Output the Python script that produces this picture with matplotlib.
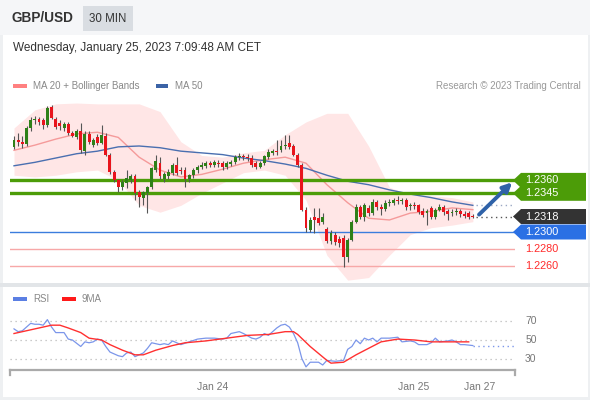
import matplotlib
matplotlib.use("Agg")
import matplotlib.pyplot as plt
from matplotlib.patches import Rectangle, Polygon
import numpy as np

plt.rcParams['font.family'] = ['Liberation Sans', 'DejaVu Sans']

# 30 min candles, Jan 23 00:00 -> Jan 25 07:00
opens = [1.2399, 1.2407, 1.2405, 1.2402, 1.2421, 1.2430, 1.2431, 1.2430, 1.2424, 1.2445,
         1.2431, 1.2427, 1.2421, 1.2426, 1.2415, 1.2410, 1.2418, 1.2394, 1.2414, 1.2401,
         1.2410, 1.2404, 1.2412, 1.2390, 1.2370, 1.2360, 1.2352, 1.2357, 1.2361, 1.2365,
         1.2347, 1.2340, 1.2345, 1.2352, 1.2372, 1.2380, 1.2362, 1.2365, 1.2369, 1.2378,
         1.2372, 1.2372, 1.2362, 1.2366, 1.2372, 1.2376, 1.2377, 1.2380, 1.2378, 1.2380,
         1.2380, 1.2375, 1.2379, 1.2381, 1.2387, 1.2388, 1.2387, 1.2386, 1.2380, 1.2376,
         1.2380, 1.2387, 1.2392, 1.2394, 1.2395, 1.2400, 1.2403, 1.2400, 1.2390, 1.2378,
         1.2326, 1.2302, 1.2317, 1.2316, 1.2312, 1.2303, 1.2289, 1.2297, 1.2292, 1.2293,
         1.2271, 1.2291, 1.2312, 1.2329, 1.2317, 1.2328, 1.2322, 1.2335, 1.2329, 1.2327,
         1.2334, 1.2334, 1.2337, 1.2336, 1.2337, 1.2330, 1.2331, 1.2331, 1.2325, 1.2322,
         1.2328, 1.2317, 1.2326, 1.2329, 1.2324, 1.2322, 1.2323, 1.2325, 1.2321, 1.2322,
         1.2319]
highs = [1.2412, 1.2415, 1.2412, 1.2423, 1.2434, 1.2435, 1.2434, 1.2433, 1.2447, 1.2448,
         1.2434, 1.2430, 1.2428, 1.2428, 1.2418, 1.2420, 1.2427, 1.2418, 1.2417, 1.2409,
         1.2414, 1.2424, 1.2415, 1.2392, 1.2372, 1.2362, 1.2360, 1.2372, 1.2368, 1.2368,
         1.2349, 1.2348, 1.2354, 1.2375, 1.2390, 1.2387, 1.2370, 1.2373, 1.2380, 1.2387,
         1.2376, 1.2375, 1.2368, 1.2374, 1.2378, 1.2381, 1.2383, 1.2383, 1.2384, 1.2384,
         1.2382, 1.2383, 1.2384, 1.2390, 1.2392, 1.2391, 1.2391, 1.2389, 1.2382, 1.2382,
         1.2390, 1.2396, 1.2397, 1.2407, 1.2407, 1.2413, 1.2413, 1.2402, 1.2392, 1.2380,
         1.2329, 1.2318, 1.2328, 1.2328, 1.2322, 1.2306, 1.2302, 1.2300, 1.2295, 1.2296,
         1.2293, 1.2314, 1.2332, 1.2331, 1.2334, 1.2331, 1.2338, 1.2337, 1.2333, 1.2337,
         1.2338, 1.2339, 1.2342, 1.2340, 1.2339, 1.2334, 1.2335, 1.2333, 1.2328, 1.2327,
         1.2330, 1.2328, 1.2332, 1.2331, 1.2327, 1.2327, 1.2328, 1.2327, 1.2324, 1.2324,
         1.2321]
lows = [1.2396, 1.2400, 1.2398, 1.2400, 1.2418, 1.2425, 1.2424, 1.2420, 1.2422, 1.2431,
        1.2420, 1.2419, 1.2418, 1.2413, 1.2410, 1.2408, 1.2392, 1.2390, 1.2402, 1.2399,
        1.2401, 1.2402, 1.2388, 1.2368, 1.2358, 1.2347, 1.2349, 1.2351, 1.2357, 1.2337,
        1.2329, 1.2331, 1.2322, 1.2350, 1.2370, 1.2362, 1.2358, 1.2362, 1.2366, 1.2366,
        1.2367, 1.2352, 1.2358, 1.2363, 1.2369, 1.2373, 1.2374, 1.2375, 1.2375, 1.2376,
        1.2372, 1.2373, 1.2377, 1.2379, 1.2384, 1.2384, 1.2383, 1.2376, 1.2373, 1.2374,
        1.2378, 1.2385, 1.2389, 1.2390, 1.2393, 1.2397, 1.2396, 1.2388, 1.2376, 1.2324,
        1.2300, 1.2300, 1.2299, 1.2308, 1.2309, 1.2287, 1.2286, 1.2285, 1.2283, 1.2259,
        1.2265, 1.2289, 1.2310, 1.2315, 1.2313, 1.2319, 1.2320, 1.2326, 1.2320, 1.2324,
        1.2330, 1.2331, 1.2333, 1.2332, 1.2326, 1.2326, 1.2327, 1.2321, 1.2318, 1.2308,
        1.2315, 1.2315, 1.2324, 1.2320, 1.2314, 1.2319, 1.2320, 1.2318, 1.2316, 1.2315,
        1.2316]
closes = [1.2407, 1.2405, 1.2402, 1.2421, 1.2430, 1.2431, 1.2428, 1.2424, 1.2444, 1.2433,
          1.2422, 1.2423, 1.2426, 1.2415, 1.2412, 1.2418, 1.2395, 1.2414, 1.2405, 1.2407,
          1.2403, 1.2413, 1.2390, 1.2370, 1.2360, 1.2352, 1.2358, 1.2363, 1.2365, 1.2345,
          1.2341, 1.2346, 1.2352, 1.2374, 1.2382, 1.2365, 1.2367, 1.2370, 1.2378, 1.2369,
          1.2371, 1.2362, 1.2366, 1.2372, 1.2376, 1.2378, 1.2380, 1.2378, 1.2381, 1.2379,
          1.2375, 1.2380, 1.2381, 1.2387, 1.2388, 1.2387, 1.2386, 1.2378, 1.2376, 1.2380,
          1.2388, 1.2393, 1.2394, 1.2393, 1.2400, 1.2401, 1.2399, 1.2390, 1.2378, 1.2326,
          1.2305, 1.2314, 1.2314, 1.2310, 1.2318, 1.2289, 1.2299, 1.2288, 1.2287, 1.2271,
          1.2291, 1.2312, 1.2329, 1.2317, 1.2331, 1.2322, 1.2335, 1.2329, 1.2327, 1.2334,
          1.2335, 1.2337, 1.2336, 1.2337, 1.2329, 1.2331, 1.2330, 1.2323, 1.2320, 1.2324,
          1.2317, 1.2326, 1.2329, 1.2323, 1.2321, 1.2323, 1.2325, 1.2321, 1.2319, 1.2317,
          1.2318]

# moving averages / bands read every 5 candles
ma_idx = [0, 5, 10, 15, 20, 25, 30, 35, 40, 45, 50, 55, 60, 65, 70, 75, 80, 85, 90, 95, 100, 105, 110]
ma20 = [1.2395, 1.2401, 1.2408, 1.2414, 1.2416, 1.2410, 1.2387, 1.2372, 1.2364, 1.2367, 1.2373, 1.2380,
        1.2384, 1.2387, 1.2380, 1.2355, 1.2334, 1.2316, 1.2314, 1.2322, 1.2324, 1.2328, 1.2326]
bb_upper = [1.2421, 1.2442, 1.2449, 1.2450, 1.2449, 1.2449, 1.2449, 1.2440, 1.2405, 1.2389, 1.2387, 1.2392,
            1.2395, 1.2413, 1.2428, 1.2438, 1.2438, 1.2400, 1.2352, 1.2343, 1.2342, 1.2340, 1.2335]
bb_lower = [1.2366, 1.2364, 1.2366, 1.2370, 1.2372, 1.2360, 1.2331, 1.2323, 1.2331, 1.2345, 1.2357, 1.2369,
            1.2372, 1.2366, 1.2337, 1.2273, 1.2244, 1.2247, 1.2273, 1.2297, 1.2305, 1.2308, 1.2312]
ma50 = [1.2377, 1.2381, 1.2386, 1.2391, 1.2394, 1.2399, 1.2400, 1.2398, 1.2394, 1.2392, 1.2390, 1.2386,
        1.2383, 1.2379, 1.2374, 1.2366, 1.2359, 1.2355, 1.2349, 1.2344, 1.2340, 1.2335, 1.2331]

resist = [1.2360, 1.2345]
support = [1.2300, 1.2280, 1.2260]
last_price = 1.2318
target = 1.2360

rsi_idx = [0, 1, 2, 4, 5, 6, 7, 8, 9, 10, 12, 13, 14, 16, 17, 18, 19, 20, 21, 22, 23, 25, 26, 27, 28, 29,
           31, 32, 33, 35, 36, 37, 38, 39, 40, 42, 44, 46, 48, 50, 51, 52, 54, 55, 57, 58, 59, 60, 61, 62,
           63, 64, 65, 66, 67, 68, 69, 70, 71, 73, 74, 75, 77, 79, 80, 81, 82, 83, 84, 85, 86, 87, 88, 90,
           92, 93, 95, 96, 97, 99, 100, 101, 102, 104, 105, 106, 107, 108, 110]
rsi = [62, 59, 60, 68, 67, 67, 66, 72, 64, 58, 58, 51, 50, 43, 48, 47, 48, 51, 50, 43, 37, 33, 32, 36, 37, 32,
       36, 41, 47, 45, 46, 45, 49, 47, 45, 48, 51, 52, 52, 51, 52, 57, 59, 57, 52, 51, 53, 57, 55, 59,
       63, 66, 67, 64, 57, 47, 30, 21, 26, 26, 23, 28, 27, 28, 40, 43, 50, 46, 52, 50, 52, 48, 52, 52,
       53, 48, 49, 48, 45, 45, 47, 52, 48, 49, 50, 48, 45, 45, 44]
ma9_idx = [0, 4, 8, 9, 11, 13, 16, 18, 21, 23, 26, 29, 31, 34, 38, 41, 46, 51, 56, 61, 65, 67, 68, 71,
           75, 76, 79, 82, 85, 88, 92, 96, 100, 105, 109]
rsi_ma9 = [57, 61, 65, 66, 66, 63, 58, 52, 50, 45, 39, 34, 34, 39, 44, 47, 49, 52, 55, 56, 59, 59, 56, 43,
           28, 25, 26, 34, 41, 48, 51, 50, 48, 48, 48]
rsi_levels = [70, 50, 30]
date_ticks = [47.7, 95.7, 111.5]
date_labels = ["Jan 24", "Jan 25", "Jan 27"]

W, H = 590, 400


def fx(x):
    return x / W


def fy(y):
    return 1 - y / H


fig = plt.figure(figsize=(5.9, 4.0), dpi=100, facecolor='#eef0f2')


def bg_rect(x0, y0, w, h, color):
    # background block in pixel units, kept behind the axes
    fig.patches.append(Rectangle((fx(x0), fy(y0 + h)), w / W, h / H, transform=fig.transFigure,
                                 facecolor=color, edgecolor='none', zorder=-5))


bg_rect(0, 0, 590, 35, '#f5f6f8')
bg_rect(3, 35, 585, 248, 'white')
bg_rect(3, 287, 585, 110, 'white')
bg_rect(0, 283, 590, 4, '#e2e5e8')

# header
fig.text(fx(12), fy(18), "GBP/USD", fontsize=9.8, fontweight='bold', color='#333333', va='center')
bg_rect(83, 6, 50, 25, '#d9dde2')
fig.text(fx(108), fy(19), "30 MIN", fontsize=8.3, color='#333333', va='center', ha='center')
fig.text(fx(13), fy(48), "Wednesday, January 25, 2023 7:09:48 AM CET", fontsize=8.5,
         color='#333333', va='center')

# legends
bg_rect(13, 84, 14, 4, '#ff8080')
fig.text(fx(33), fy(86), "MA 20 + Bollinger Bands", fontsize=7, color='#888888', va='center')
bg_rect(156, 84, 12, 4, '#3b63a6')
fig.text(fx(175), fy(86), "MA 50", fontsize=7, color='#888888', va='center')
fig.text(fx(581), fy(86), "Research \u00a9 2023 Trading Central", fontsize=7, color='#999999',
         va='center', ha='right')

bg_rect(13, 297, 14, 4, '#5b7fe3')
fig.text(fx(33), fy(299), "RSI", fontsize=7, color='#888888', va='center')
bg_rect(62, 297, 14, 4, '#ff1a1a')
fig.text(fx(82), fy(299), "9MA", fontsize=7, color='#888888', va='center')

# ---- price panel
ax = fig.add_axes([fx(10), fy(283), 505 / W, (283 - 95) / H])
ax.set_facecolor('none')
xmin, xmax = -0.96, 120.1
ax.set_xlim(xmin, xmax)
ax.set_ylim(1.22407, 1.24593)
ax.axis('off')

ax.fill_between(ma_idx, bb_lower, bb_upper, color='#ffe0e0', alpha=0.8, lw=0, zorder=1)
ax.plot(ma_idx, ma20, color='#f59a9a', lw=1, zorder=2)
ax.plot(ma_idx, ma50, color='#4a6fb0', lw=1, zorder=2)

for lvl in resist:
    ax.axhline(lvl, color='#4c9c08', lw=2.4, zorder=3)
ax.axhline(support[0], color='#3b7ddd', lw=1, zorder=3)
for lvl in support[1:]:
    ax.axhline(lvl, color='#f7a8a8', lw=1, zorder=3)

x = np.arange(len(closes))
o = np.array(opens)
c = np.array(closes)
up = c >= o
ax.vlines(x, lows, highs, color='#555555', lw=0.8, zorder=4)
ax.bar(x[up], c[up] - o[up], bottom=o[up], width=0.7, color='#2e8018', zorder=5)
ax.bar(x[~up], o[~up] - c[~up], bottom=c[~up], width=0.7, color='#e8141c', zorder=5)

ax.plot([x[-1] + 0.8, xmax], [last_price, last_price], color='#555555', lw=1, ls=(0, (1, 2.5)), zorder=3)
ax.plot([x[-1] + 0.8, xmax], [ma50[-1], ma50[-1]], color='#9aa8c4', lw=1, ls=(0, (1, 2.5)), zorder=3)
ax.annotate('', xy=(xmax - 0.2, target), xytext=(x[-1] + 1, last_price),
            arrowprops=dict(arrowstyle='-|>', color='#2f62a8', lw=2.8, mutation_scale=13),
            annotation_clip=False, zorder=6)


def level_px(level):
    return (1 - ax.transData.transform((0, level))[1] / fig.bbox.height) * H


def tag(level, color):
    ypx = level_px(level)
    pts = [(513, ypx), (521, ypx - 7.5), (586, ypx - 7.5), (586, ypx + 7.5), (521, ypx + 7.5)]
    fig.patches.append(Polygon([(fx(a), fy(b)) for a, b in pts], closed=True,
                               transform=fig.transFigure, facecolor=color, edgecolor='none'))
    fig.text(fx(525), fy(ypx), "%.4f" % level, fontsize=7.8, color='white', va='center')


tag(resist[0], '#4c9c08')
tag(resist[1], '#4c9c08')
tag(last_price, '#333333')
tag(support[0], '#2b70e4')
for lvl in support[1:]:
    fig.text(fx(525), fy(level_px(lvl)), "%.4f" % lvl, fontsize=7.8, color='#ff2a2a', va='center')

# ---- RSI panel
ax2 = fig.add_axes([fx(10), fy(370), 505 / W, 65 / H])
ax2.set_facecolor('none')
ax2.set_xlim(xmin, xmax)
ax2.set_ylim(17.6, 87.8)
for s in ['top', 'right', 'left']:
    ax2.spines[s].set_visible(False)
ax2.spines['bottom'].set_color('#aaaaaa')
ax2.spines['bottom'].set_linewidth(1.6)
ax2.set_yticks([])
ax2.set_xticks(date_ticks)
ax2.set_xticklabels(date_labels, fontsize=7.5, color='#777777')
ax2.tick_params(axis='x', length=0, pad=9)
for xe in [0, 1]:
    ax2.plot([xe, xe], [0, -0.07], transform=ax2.transAxes, color='#aaaaaa', lw=1.6, clip_on=False)

for lv in rsi_levels:
    ax2.axhline(lv, color='#bbbbbb', lw=0.9, ls=(0, (1, 3)))
    ax2.text(1.02, lv, str(lv), transform=ax2.get_yaxis_transform(), fontsize=7.5,
             color='#777777', va='center')
ax2.plot(rsi_idx, rsi, color='#7b96ea', lw=0.9)
ax2.plot(ma9_idx, rsi_ma9, color='#ff3030', lw=1.0)
ax2.plot([rsi_idx[-1], xmax], [rsi[-1], rsi[-1]], color='#7b96ea', lw=1, ls=(0, (1, 2.5)))

fig.savefig("out.png", dpi=100, facecolor=fig.get_facecolor())
